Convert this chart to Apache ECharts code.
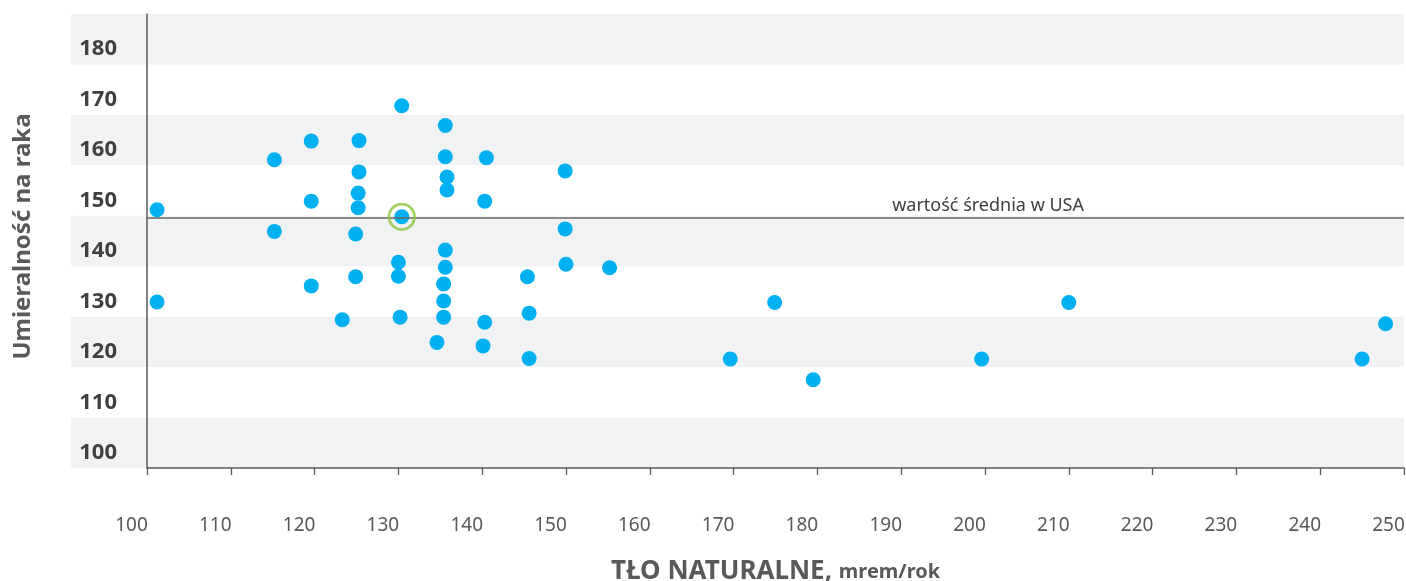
<!DOCTYPE html>
<html>
<head>
<meta charset="utf-8">
<script src="https://cdn.jsdelivr.net/npm/echarts@6/dist/echarts.min.js"></script>
<style>
  html, body { margin: 0; padding: 0; background: #ffffff; }
  #chart { width: 1406px; height: 581px; }
</style>
</head>
<body>
<div id="chart"></div>
<script>
// Natural background radiation (mrem/year) per state
const background = [101.2, 101.2, 115.2, 115.2, 119.6, 119.6, 119.6, 125.3, 125.3, 125.2,
  125.2, 124.9, 124.9, 123.3, 130.4, 130.4, 130.0, 130.0, 130.2, 135.6,
  135.6, 135.8, 135.8, 135.6, 135.6, 135.4, 135.4, 135.4, 134.6, 140.5,
  140.3, 140.3, 140.1, 145.4, 145.6, 145.6, 149.9, 149.9, 150.0, 155.2,
  169.6, 174.9, 179.5, 199.6, 210.0, 245.0, 247.8];
// Cancer mortality for the same states
const mortality = [146.2, 127.9, 156.1, 141.9, 159.8, 147.9, 131.1, 159.9, 153.7, 149.5,
  146.6, 141.4, 132.9, 124.4, 166.8, 144.8, 135.8, 133.0, 124.9, 162.9,
  156.7, 152.7, 150.1, 138.2, 134.8, 131.5, 128.1, 124.9, 119.9, 156.5,
  147.9, 123.9, 119.2, 132.9, 125.7, 116.7, 153.9, 142.4, 135.4, 134.7,
  116.6, 127.8, 112.5, 116.6, 127.8, 116.6, 123.6];
// Point marked with a ring (the US average state)
const highlightIndex = 15;
// US average mortality
const usMean = 144.7;
const usMeanLabel = 'wartość średnia w USA';
// Shaded bands behind the rows of the value axis
const bands = [[95, 105], [115, 125], [135, 145], [155, 165], [175, 185]];
const yTitle = 'Umieralność na raka';
const xTitleMain = 'TŁO NATURALNE,';
const xTitleUnit = 'mrem/rok';

const points = background.map((x, i) => [x, mortality[i]]);
const ring = [[background[highlightIndex], mortality[highlightIndex]]];

const axisColor = '#595959';
const chart = echarts.init(document.getElementById('chart'), null, { renderer: 'canvas' });

chart.setOption({
  animation: false,
  textStyle: { fontFamily: 'Noto Sans' },
  grid: [
    { left: 147, right: 2, top: 14, bottom: 113, containLabel: false, outerBoundsMode: 'none' },
    { left: 71, right: 2, top: 14, bottom: 113, containLabel: false, outerBoundsMode: 'none' }
  ],
  xAxis: [
    {
      type: 'value', gridIndex: 0, min: 100, max: 250, interval: 10, z: 3,
      axisLine: { show: true, lineStyle: { color: axisColor, width: 1.5 } },
      axisTick: { show: true, length: 7, lineStyle: { color: axisColor, width: 1.3 } },
      splitLine: { show: false },
      axisLabel: { fontSize: 19, color: '#595959', margin: 48, padding: [0, 31, 0, 0] },
      name: '{a|' + xTitleMain + ' }{b|' + xTitleUnit + '}',
      nameLocation: 'middle',
      nameGap: 91,
      nameTextStyle: {
        rich: {
          a: { fontSize: 26, fontWeight: 'bold', color: '#595959', fontFamily: 'Noto Sans' },
          b: { fontSize: 20, fontWeight: 'bold', color: '#595959', fontFamily: 'Noto Sans' }
        }
      }
    },
    { type: 'value', gridIndex: 1, min: 0, max: 1, show: false }
  ],
  yAxis: [
    {
      type: 'value', gridIndex: 0, min: 95, max: 185, interval: 5, z: 3,
      axisLine: { show: true, lineStyle: { color: axisColor, width: 1.5 } },
      axisTick: { show: false },
      splitLine: { show: false },
      axisLabel: {
        fontSize: 22, fontWeight: 'bold', color: '#404040', margin: 30,
        verticalAlign: 'top', lineHeight: 20,
        formatter: v => (v % 10 === 0 ? String(v) : '')
      },
      name: yTitle,
      nameLocation: 'middle',
      nameRotate: 90,
      nameGap: 112,
      nameTextStyle: { fontSize: 24, fontWeight: 'bold', color: '#595959', padding: [0, 0, 0, 9] }
    },
    { type: 'value', gridIndex: 1, min: 95, max: 185, show: false }
  ],
  series: [
    {
      type: 'scatter', xAxisIndex: 1, yAxisIndex: 1, data: [], silent: true, z: 0,
      markArea: {
        silent: true,
        itemStyle: { color: '#f1f2f4' },
        data: bands.map(b => [{ yAxis: b[0] }, { yAxis: b[1] }])
      }
    },
    {
      type: 'scatter', xAxisIndex: 0, yAxisIndex: 0, z: 4,
      symbol: 'circle', symbolSize: 15,
      itemStyle: { color: '#00b0f0', opacity: 1 },
      data: points,
      markLine: {
        silent: true, symbol: 'none',
        lineStyle: { color: '#666666', width: 1.6, type: 'solid' },
        label: {
          show: true, position: 'insideEndTop', formatter: usMeanLabel,
          fontSize: 18, color: '#404040', distance: 2, padding: [0, 318, 0, 0]
        },
        data: [{ yAxis: usMean }]
      }
    },
    {
      type: 'scatter', xAxisIndex: 0, yAxisIndex: 0, z: 5,
      symbol: 'circle', symbolSize: 25.5,
      itemStyle: { color: 'rgba(0,0,0,0)', borderColor: '#8dc63f', borderWidth: 2.7 },
      data: ring
    }
  ]
});
</script>
</body>
</html>
